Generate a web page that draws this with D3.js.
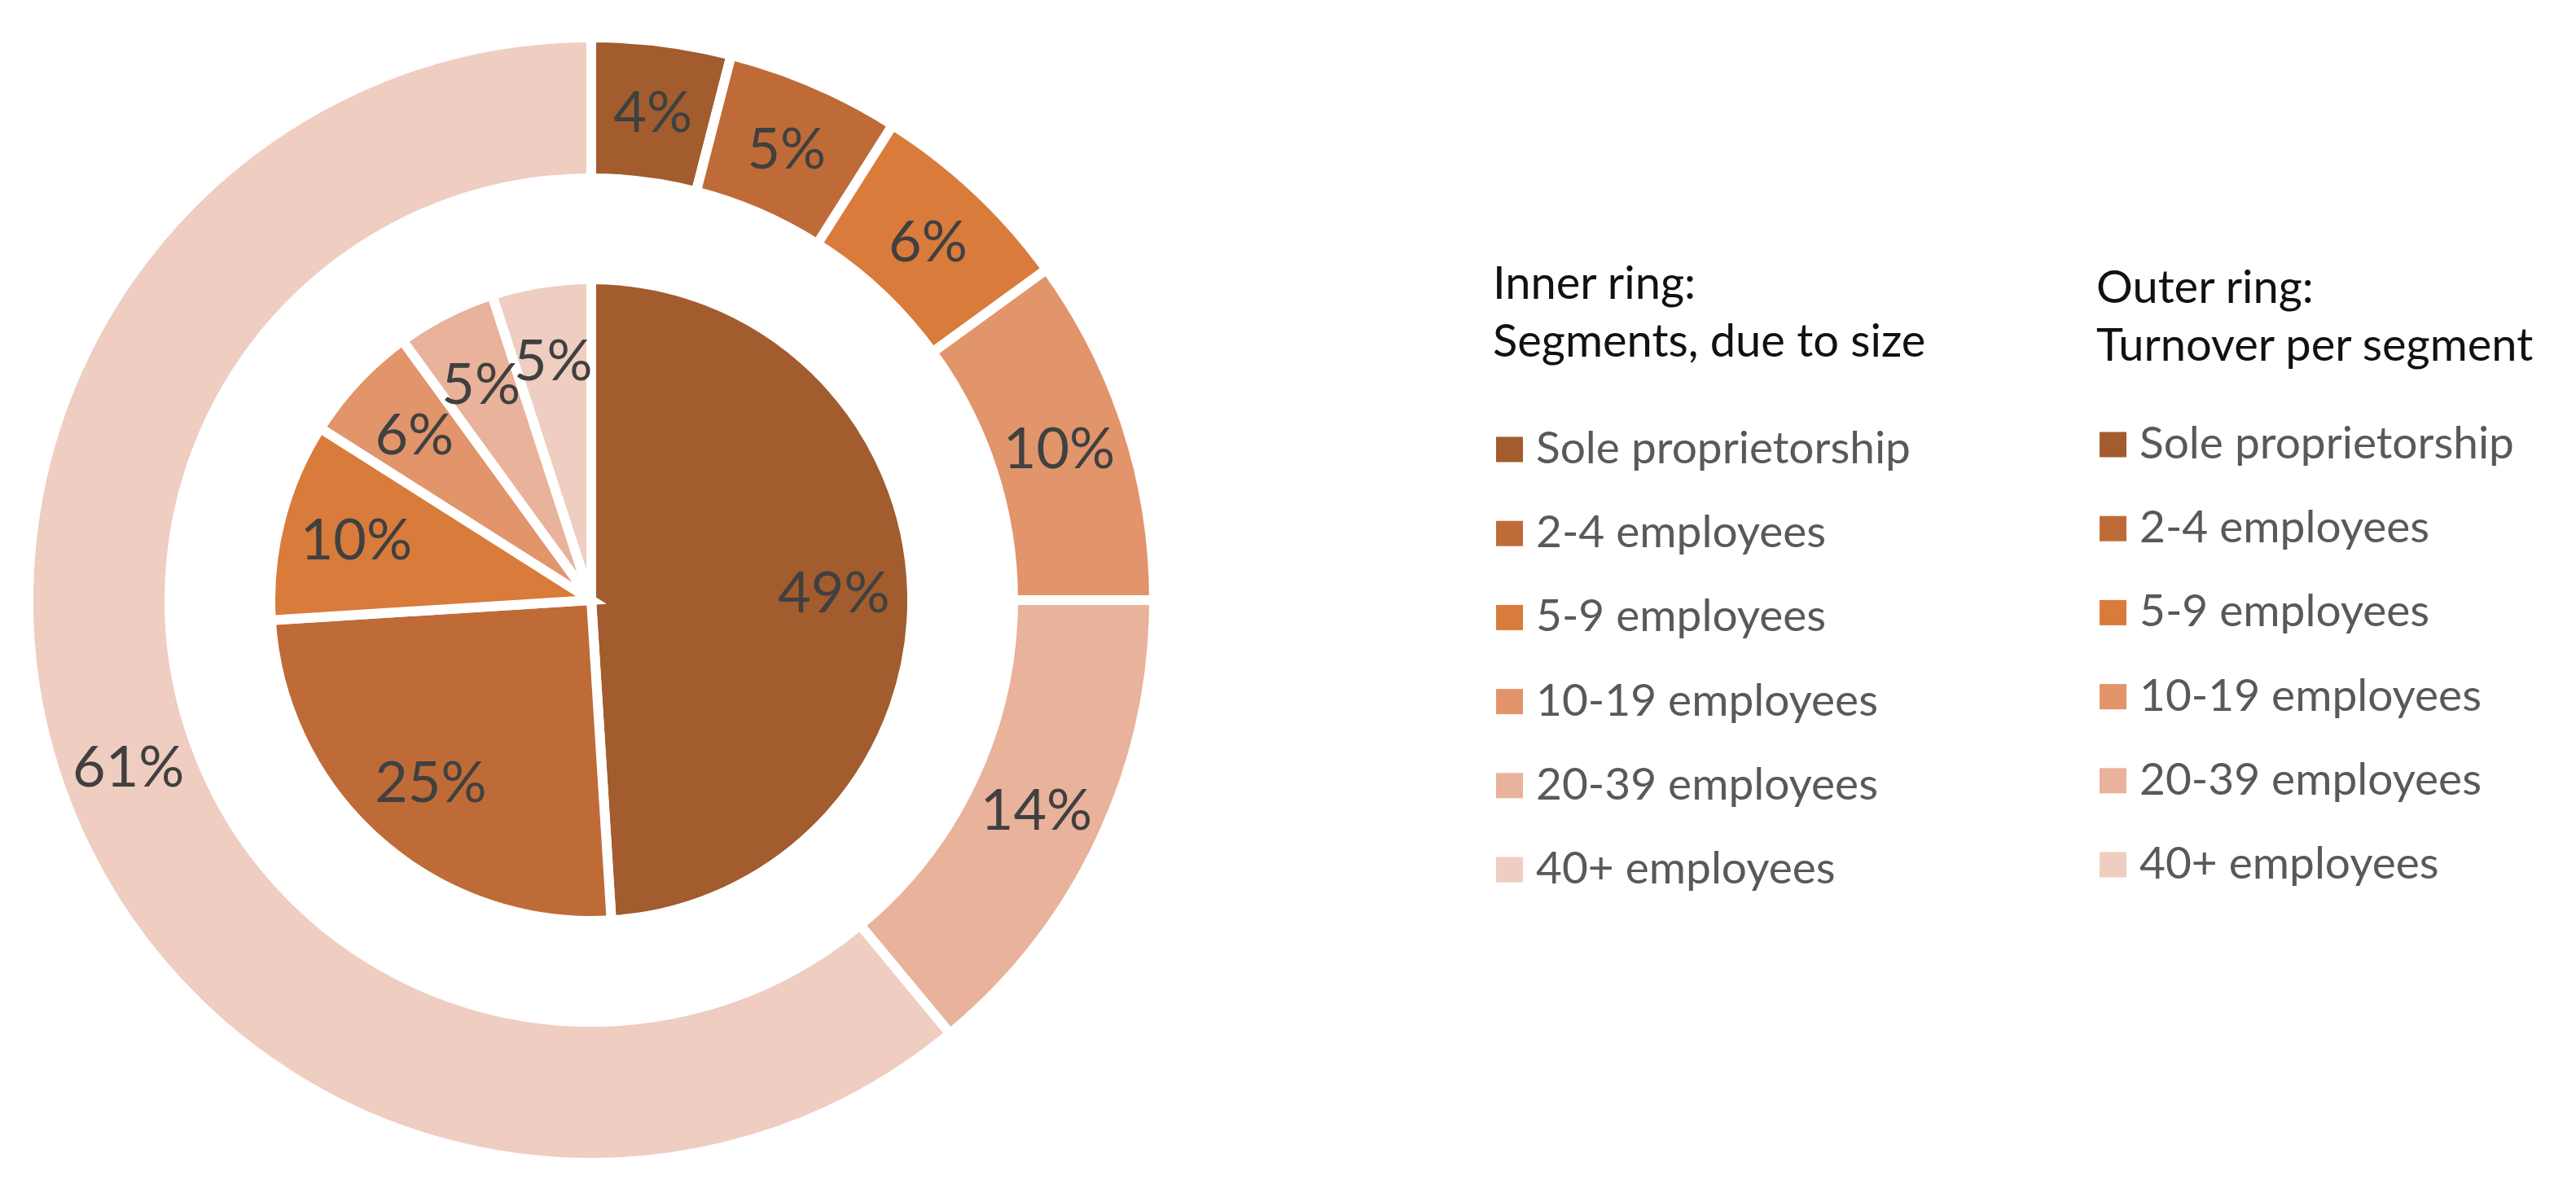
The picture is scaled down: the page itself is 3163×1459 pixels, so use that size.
<!DOCTYPE html>
<html>
<head>
<meta charset="utf-8">
<script src="https://cdn.jsdelivr.net/npm/d3@7"></script>
<style>
  html, body { margin: 0; padding: 0; background: #ffffff; }
  svg { display: block; }
</style>
</head>
<body>
<script>
// ---- Data ----
const categories = ["Sole proprietorship", "2-4 employees", "5-9 employees", "10-19 employees", "20-39 employees", "40+ employees"];
const innerValues = [49, 25, 10, 6, 5, 5];   // Segments, due to size
const outerValues = [4, 5, 6, 10, 14, 61];   // Turnover per segment
const innerTitle = ["Inner ring:", "Segments, due to size"];
const outerTitle = ["Outer ring:", "Turnover per segment"];
const palette = ["#A25C2E", "#BF6B37", "#D97B3B", "#E2946B", "#E9B29A", "#EFCDC0"];

// ---- Layout ----
const W = 3163, H = 1459;
const cx = 726, cy = 737;
const stroke = 12;
const pieR = 388 + stroke / 2;
const ringOuter = 685 + stroke / 2;
const ringInner = 524 - stroke / 2;
const font = "Lato, 'Open Sans', 'Liberation Sans', sans-serif";

const svg = d3.select("body").append("svg")
  .attr("width", W).attr("height", H)
  .attr("viewBox", `0 0 ${W} ${H}`);
svg.append("rect").attr("width", W).attr("height", H).attr("fill", "#ffffff");

const color = d3.scaleOrdinal().domain(categories).range(palette);
const pie = d3.pie().sort(null).value(d => d.value);

const innerData = pie(categories.map((c, i) => ({ cat: c, value: innerValues[i] })));
const outerData = pie(categories.map((c, i) => ({ cat: c, value: outerValues[i] })));

const g = svg.append("g").attr("transform", `translate(${cx},${cy})`);

const arcInner = d3.arc().innerRadius(0).outerRadius(pieR);
const arcOuter = d3.arc().innerRadius(ringInner).outerRadius(ringOuter);
const labelInner = d3.arc().innerRadius(298).outerRadius(298);
const labelOuter = d3.arc().innerRadius(604).outerRadius(604);

// Outer ring
g.append("g").selectAll("path").data(outerData).join("path")
  .attr("d", arcOuter)
  .attr("fill", d => color(d.data.cat))
  .attr("stroke", "#ffffff")
  .attr("stroke-width", stroke)
  .attr("stroke-linejoin", "miter");

// Inner pie
g.append("g").selectAll("path").data(innerData).join("path")
  .attr("d", arcInner)
  .attr("fill", d => color(d.data.cat))
  .attr("stroke", "#ffffff")
  .attr("stroke-width", stroke)
  .attr("stroke-linejoin", "miter");

const fmt = v => v + "%";

g.append("g").selectAll("text").data(outerData).join("text")
  .attr("transform", d => `translate(${labelOuter.centroid(d)})`)
  .attr("text-anchor", "middle")
  .attr("dy", "0.35em")
  .attr("font-family", font)
  .attr("font-size", 70)
  .attr("fill", "#404040")
  .text(d => fmt(d.data.value));

g.append("g").selectAll("text").data(innerData).join("text")
  .attr("transform", d => `translate(${labelInner.centroid(d)})`)
  .attr("text-anchor", "middle")
  .attr("dy", "0.35em")
  .attr("font-family", font)
  .attr("font-size", 70)
  .attr("fill", "#404040")
  .text(d => fmt(d.data.value));

// ---- Legends ----
function legend(x, titleY, rowTop, titles) {
  const lg = svg.append("g").attr("transform", `translate(${x},0)`);
  lg.selectAll("text.title").data(titles).join("text")
    .attr("class", "title")
    .attr("x", 0)
    .attr("y", (d, i) => titleY + i * 71)
    .attr("font-family", font)
    .attr("font-size", 56)
    .attr("fill", "#111111")
    .text(d => d);
  const rowY = d3.scalePoint().domain(categories).range([rowTop, rowTop + 516]);
  const rows = lg.selectAll("g.row").data(categories).join("g")
    .attr("class", "row")
    .attr("transform", d => `translate(0,${rowY(d)})`);
  rows.append("rect")
    .attr("x", 4).attr("y", -15.5)
    .attr("width", 33).attr("height", 31)
    .attr("fill", d => color(d));
  rows.append("text")
    .attr("x", 53).attr("y", 17)
    .attr("font-family", font)
    .attr("font-size", 55)
    .attr("fill", "#595959")
    .text(d => d);
}
legend(1833, 367, 552, innerTitle);
legend(2574, 372, 546, outerTitle);
</script>
</body>
</html>
